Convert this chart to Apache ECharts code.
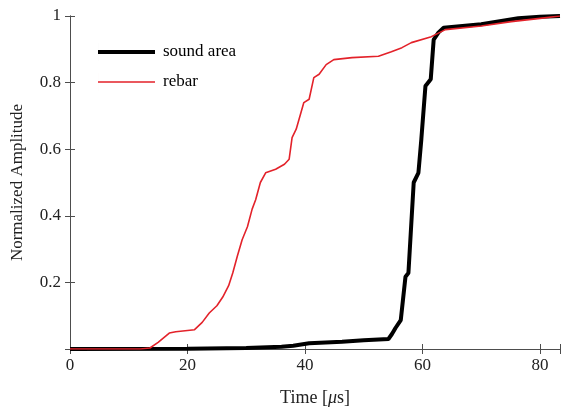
<!DOCTYPE html>
<html>
<head>
<meta charset="utf-8">
<script src="https://cdn.jsdelivr.net/npm/echarts@6/dist/echarts.min.js"></script>
<style>
  html, body { margin: 0; padding: 0; background: #fff; }
  #chart { width: 563px; height: 412px; }
</style>
</head>
<body>
<div id="chart"></div>
<script>
// Cumulative normalized amplitude vs. time [µs], pairs of [time, amplitude]
const soundArea = [
  [0, 0], [20, 0.001], [30, 0.003], [36, 0.007], [38, 0.01], [40.7, 0.017],
  [46.3, 0.022], [50, 0.026], [54.2, 0.03], [54.8, 0.045], [55.4, 0.063],
  [56.3, 0.087], [57.1, 0.217], [57.6, 0.228], [58.5, 0.5], [59.3, 0.529],
  [59.8, 0.63], [60.5, 0.79], [61.4, 0.81], [61.9, 0.929], [62.7, 0.95],
  [63.6, 0.965], [70, 0.975], [76.3, 0.993], [80, 0.998], [83.4, 1]
];
const rebar = [
  [0, 0], [12, 0], [13.6, 0.003], [15, 0.02], [16.9, 0.048], [18, 0.052],
  [21.2, 0.058], [22.5, 0.08], [23.7, 0.108], [25, 0.13], [26, 0.156],
  [27, 0.19], [27.7, 0.228], [28.5, 0.28], [29.3, 0.328], [30.2, 0.367],
  [31, 0.42], [31.6, 0.448], [32.4, 0.5], [33.3, 0.529], [35, 0.54],
  [36.5, 0.555], [37.3, 0.57], [37.8, 0.635], [38.5, 0.66], [39.8, 0.74],
  [40.7, 0.75], [41.5, 0.815], [42.4, 0.825], [43.6, 0.854], [44.9, 0.869],
  [48, 0.875], [52.5, 0.879], [54.7, 0.893], [56.5, 0.905], [58.1, 0.92],
  [61.5, 0.938], [63.9, 0.959], [70, 0.97], [75.1, 0.983], [80, 0.993], [83.4, 1]
];
const xTicks = [0, 20, 40, 60, 80];
const yTicks = [0.2, 0.4, 0.6, 0.8, 1];
const seriesNames = ['sound area', 'rebar'];

const FONT = '"Liberation Serif", "DejaVu Serif", serif';
const AXIS_COLOR = '#4d4d4d';
const BLACK = '#000000';
const RED = '#e3222a';
const X_MAX = 83.4;

const chart = echarts.init(document.getElementById('chart'), null, { renderer: 'canvas' });

const boxAxis = {
  axisLine: { show: true, lineStyle: { color: AXIS_COLOR, width: 1 } },
  axisTick: { show: true, inside: true, length: 5, lineStyle: { color: AXIS_COLOR } },
  splitLine: { show: false }
};

// Legend swatches: a thick bar for the bold series, a thin one for the other,
// both drawn as paths spanning the full swatch box so the stroke stays centred.
const thickIcon = 'path://M0,7H57V11H0Z M0,0H0.01V18H0Z';
const thinIcon = 'path://M0,8.2H57V9.8H0Z M0,0H0.01V18H0Z';

chart.setOption({
  backgroundColor: '#ffffff',
  animation: false,
  grid: { left: 70, top: 16, right: 1, bottom: 63, containLabel: false },
  legend: {
    data: [
      { name: seriesNames[0], icon: thickIcon, itemStyle: { color: BLACK } },
      { name: seriesNames[1], icon: thinIcon, itemStyle: { color: RED } }
    ],
    orient: 'vertical',
    left: 93,
    top: 38,
    itemWidth: 57,
    itemHeight: 18,
    itemGap: 12,
    textStyle: { fontFamily: FONT, fontSize: 17, color: '#000', padding: [0, 0, 0, 3] }
  },
  xAxis: [
    Object.assign({
      type: 'value', min: 0, max: X_MAX, interval: 20, position: 'bottom',
      axisLabel: {
        fontFamily: FONT, fontSize: 17, color: '#222', margin: 8,
        formatter: v => (xTicks.indexOf(v) >= 0 ? String(v) : '')
      },
      name: '{n|Time [}{i|μ}{n|s]}',
      nameLocation: 'middle',
      nameGap: 40,
      nameTextStyle: {
        rich: {
          n: { fontFamily: FONT, fontSize: 18, color: '#222' },
          i: { fontFamily: FONT, fontSize: 18, color: '#222', fontStyle: 'italic' }
        }
      }
    }, boxAxis),
    Object.assign({
      type: 'value', min: 0, max: X_MAX, interval: 20, position: 'top',
      axisLabel: { show: false }
    }, boxAxis)
  ],
  yAxis: [
    Object.assign({
      type: 'value', min: 0, max: 1, interval: 0.2, position: 'left',
      axisLabel: {
        fontFamily: FONT, fontSize: 17, color: '#222', margin: 9,
        formatter: v => {
          const r = Math.round(v * 10) / 10;
          return yTicks.indexOf(r) >= 0 ? String(r) : '';
        }
      },
      name: 'Normalized Amplitude',
      nameLocation: 'middle',
      nameGap: 44,
      nameTextStyle: { fontFamily: FONT, fontSize: 17, color: '#222' }
    }, boxAxis),
    Object.assign({
      type: 'value', min: 0, max: 1, interval: 0.2, position: 'right',
      axisLabel: { show: false }
    }, boxAxis)
  ],
  series: [
    {
      name: seriesNames[0], type: 'line', data: soundArea,
      showSymbol: false, symbol: 'none',
      lineStyle: { color: BLACK, width: 4 },
      itemStyle: { color: BLACK },
      z: 2
    },
    {
      name: seriesNames[1], type: 'line', data: rebar,
      showSymbol: false, symbol: 'none',
      lineStyle: { color: RED, width: 1.6 },
      itemStyle: { color: RED },
      z: 3
    }
  ]
});
</script>
</body>
</html>
